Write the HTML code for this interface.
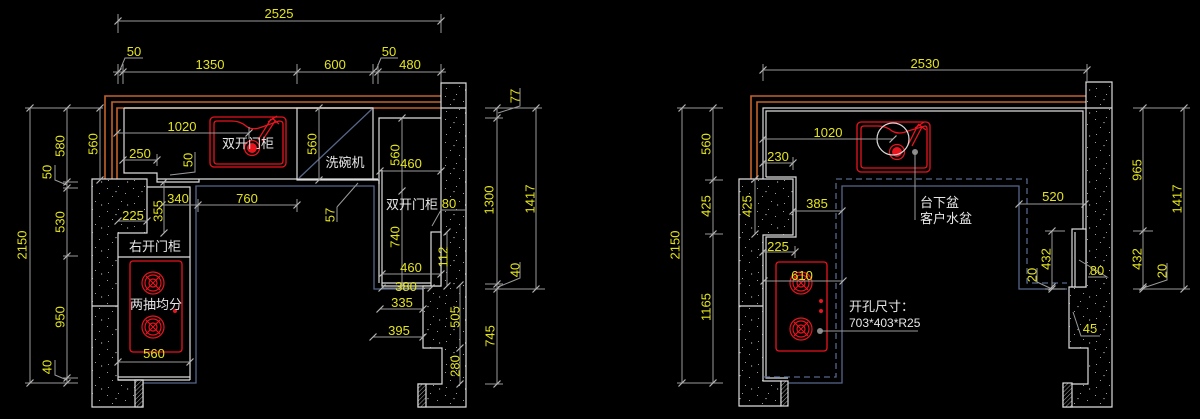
<!DOCTYPE html>
<html><head><meta charset="utf-8">
<style>
html,body{margin:0;padding:0;background:#000;}
svg{display:block;}
.d{stroke:#9a9a9a;stroke-width:1;fill:none}
.w{stroke:#dcdcdc;stroke-width:1.2;fill:none}
.o{stroke:#c4632a;stroke-width:1.6;fill:none}
.r{stroke:#e8141e;stroke-width:1.3;fill:none}
.b{stroke:#56668a;stroke-width:1.3;fill:none}
.bd{stroke:#56668a;stroke-width:1.3;fill:none;stroke-dasharray:6 4}
text{font-family:"Liberation Sans","Noto Sans CJK SC",sans-serif;}
.y{fill:#e4e41c;font-size:13px}
.t{fill:#e6e6e6;font-size:13px}
</style></head><body>
<svg width="1200" height="419" viewBox="0 0 1200 419" xmlns="http://www.w3.org/2000/svg">
<defs>
<path id="k" d="M-3.5,3.5L3.5,-3.5" stroke="#b4b4b4" stroke-width="1.2"/>
<pattern id="sp" width="26" height="23" patternUnits="userSpaceOnUse">
<rect width="26" height="23" fill="#000"/>
<g fill="#9a9a9a">
<rect x="3" y="4" width="1" height="1"/><rect x="14" y="2" width="1" height="1"/><rect x="21" y="9" width="1" height="1"/>
<rect x="8" y="12" width="1" height="1"/><rect x="17" y="17" width="1" height="1"/><rect x="4" y="19" width="1" height="1"/>
<path d="M11,7l2,0l-1,1.5z"/><path d="M23,20l1.5,1l-1.5,1z"/>
</g></pattern>
<pattern id="ht" width="3" height="3" patternUnits="userSpaceOnUse" patternTransform="rotate(45)">
<rect width="3" height="3" fill="#000"/><line x1="0" y1="0" x2="0" y2="3" stroke="#aaa" stroke-width="1"/></pattern>
<g id="bn" stroke="#e8141e" fill="none" stroke-width="1.2"><circle r="11"/><circle r="8"/><circle r="4"/><path d="M-7,-7L7,7M-7,7L7,-7"/></g>
</defs>
<rect width="1200" height="419" fill="#000"/>

<!-- ================= LEFT DRAWING ================= -->
<path class="d" d="M118,21H441M118,14V33M441,14V33"/>
<path class="d" d="M113,72H446M118,64V84M123,64V84M297,64V84M373,64V84M378,64V84M441,64V84"/>
<path class="d" d="M120,70L125,58H143M376,70L381,58H398"/>
<g><use href="#k" x="118" y="21"/><use href="#k" x="441" y="21"/>
<use href="#k" x="118" y="72"/><use href="#k" x="123" y="72"/><use href="#k" x="297" y="72"/><use href="#k" x="373" y="72"/><use href="#k" x="378" y="72"/><use href="#k" x="441" y="72"/></g>
<text class="y" x="279" y="18" text-anchor="middle">2525</text>
<text class="y" x="210" y="69" text-anchor="middle">1350</text>
<text class="y" x="335" y="69" text-anchor="middle">600</text>
<text class="y" x="410" y="69" text-anchor="middle">480</text>
<text class="y" x="134" y="56" text-anchor="middle">50</text>
<text class="y" x="389" y="56" text-anchor="middle">50</text>

<path class="o" d="M105,180V96H441M112,180V102H441M117,180V108H441"/>
<path class="w" d="M124,108H373M124,108V173H157V179H378M157,179V182H199V179"/>
<rect class="w" x="297" y="108" width="76" height="72"/>
<path class="b" d="M299,178L372,109"/>
<path class="w" d="M379,283V118H441M382,170V286H441M382,283H431"/>
<path class="w" d="M373,180H379V184"/>
<path class="b" d="M143,383H196V186H374V289H424"/>
<path class="w" style="fill:url(#sp)" d="M92,179H147V233H118V380H143V407H92Z"/>
<path class="w" d="M92,306H118"/>
<rect x="135" y="380" width="8" height="27" class="w" style="fill:url(#ht)"/>
<path class="w" d="M147,187H190V380M118,257H190M118,377H190M118,380H190"/>
<rect class="r" x="130" y="261" width="52" height="91" rx="3"/>
<use href="#bn" x="153" y="283"/><use href="#bn" x="153" y="327"/>
<circle cx="175" cy="311" r="2" fill="#e8141e"/>
<path class="w" style="fill:url(#sp)" d="M441,83H466V407H418V384H442V348H423V286H441Z"/>
<path class="w" d="M441,108H466"/>
<rect class="w" x="431" y="232" width="10" height="54" style="fill:#000"/>
<rect x="418" y="384" width="8" height="23" class="w" style="fill:url(#ht)"/>
<rect class="r" x="210" y="117" width="76" height="50" rx="4" stroke-width="2"/>
<path class="r" d="M214,124Q214,121 217,121H232Q240,121 246,126Q252,131 262,127L279,121Q283,121 283,124V161Q283,164 280,164H217Q214,164 214,161Z"/>
<circle cx="252" cy="148" r="5" fill="#e8141e"/><circle class="r" cx="252" cy="148" r="7.5"/>
<path class="r" d="M258,140L271,119M262,141L275,121M268,122L277,116M272,118L279,124"/>

<path class="d" d="M117,133H249M249,127V139M123,160H157M157,154V166M162,205H297M198,199V212M297,199V212M164,182V233M118,221H147M118,362H190M319,108V180M402,118V286M380,171H441M382,274H441M382,288H431M380,309H423M373,337H423M460,285V384M447,232V286"/>
<path class="d" d="M195,152V172L170,175M337,207V222M337,207L358,183M441,210H466M441,210L432,226"/>
<g><use href="#k" x="117" y="133"/><use href="#k" x="249" y="133"/><use href="#k" x="123" y="160"/><use href="#k" x="157" y="160"/>
<use href="#k" x="162" y="205"/><use href="#k" x="198" y="205"/><use href="#k" x="297" y="205"/>
<use href="#k" x="164" y="182"/><use href="#k" x="164" y="233"/><use href="#k" x="118" y="221"/><use href="#k" x="147" y="221"/>
<use href="#k" x="118" y="362"/><use href="#k" x="190" y="362"/><use href="#k" x="319" y="108"/><use href="#k" x="319" y="180"/>
<use href="#k" x="402" y="118"/><use href="#k" x="402" y="191"/><use href="#k" x="402" y="286"/>
<use href="#k" x="380" y="171"/><use href="#k" x="441" y="171"/><use href="#k" x="382" y="274"/><use href="#k" x="441" y="274"/>
<use href="#k" x="382" y="288"/><use href="#k" x="431" y="288"/><use href="#k" x="380" y="309"/><use href="#k" x="423" y="309"/>
<use href="#k" x="373" y="337"/><use href="#k" x="423" y="337"/><use href="#k" x="460" y="285"/><use href="#k" x="460" y="348"/><use href="#k" x="460" y="384"/>
<use href="#k" x="447" y="232"/><use href="#k" x="447" y="286"/></g>
<text class="y" x="182" y="131" text-anchor="middle">1020</text>
<text class="y" x="140" y="158" text-anchor="middle">250</text>
<text class="y" x="178" y="203" text-anchor="middle">340</text>
<text class="y" x="247" y="203" text-anchor="middle">760</text>
<text class="y" x="133" y="220" text-anchor="middle">225</text>
<text class="y" x="154" y="358" text-anchor="middle">560</text>
<text class="y" x="411" y="168" text-anchor="middle">460</text>
<text class="y" x="449" y="208" text-anchor="middle">80</text>
<text class="y" x="411" y="272" text-anchor="middle">460</text>
<text class="y" x="406" y="291" text-anchor="middle">380</text>
<text class="y" x="402" y="307" text-anchor="middle">335</text>
<text class="y" x="399" y="335" text-anchor="middle">395</text>
<g class="y" text-anchor="middle" dominant-baseline="central">
<text x="188" y="160" transform="rotate(-90 188 160)">50</text>
<text x="158" y="211" transform="rotate(-90 158 211)">355</text>
<text x="312" y="144" transform="rotate(-90 312 144)">560</text>
<text x="395" y="155" transform="rotate(-90 395 155)">560</text>
<text x="395" y="237" transform="rotate(-90 395 237)">740</text>
<text x="330" y="215" transform="rotate(-90 330 215)">57</text>
<text x="443" y="257" transform="rotate(-90 443 257)">112</text>
<text x="455" y="317" transform="rotate(-90 455 317)">505</text>
<text x="455" y="366" transform="rotate(-90 455 366)">280</text>
</g>
<text class="t" x="248" y="148" text-anchor="middle">双开门柜</text>
<text class="t" x="345" y="167" text-anchor="middle">洗碗机</text>
<text class="t" x="412" y="209" text-anchor="middle">双开门柜</text>
<text class="t" x="155" y="251" text-anchor="middle">右开门柜</text>
<text class="t" x="156" y="309" text-anchor="middle">两抽均分</text>

<path class="d" d="M30,108V383M67,108V383M100,108V180M25,108H103M63,182H78M63,188H78M63,256H78M63,378H78M25,383H78M55,165V180L67,185M55,360V375L67,380"/>
<g><use href="#k" x="30" y="108"/><use href="#k" x="30" y="383"/><use href="#k" x="67" y="108"/><use href="#k" x="67" y="182"/><use href="#k" x="67" y="188"/>
<use href="#k" x="67" y="256"/><use href="#k" x="67" y="378"/><use href="#k" x="67" y="383"/><use href="#k" x="100" y="108"/><use href="#k" x="100" y="180"/></g>
<g class="y" text-anchor="middle" dominant-baseline="central">
<text x="22" y="245" transform="rotate(-90 22 245)">2150</text>
<text x="60" y="146" transform="rotate(-90 60 146)">580</text>
<text x="47" y="172" transform="rotate(-90 47 172)">50</text>
<text x="60" y="222" transform="rotate(-90 60 222)">530</text>
<text x="60" y="317" transform="rotate(-90 60 317)">950</text>
<text x="47" y="367" transform="rotate(-90 47 367)">40</text>
<text x="93" y="144" transform="rotate(-90 93 144)">560</text>
</g>

<path class="d" d="M497,108V384M536,108V289M485,108H542M485,118H503M485,284H503M485,289H545M485,384H503M520,88V106L498,113M520,262V278L498,287"/>
<g><use href="#k" x="497" y="108"/><use href="#k" x="497" y="118"/><use href="#k" x="497" y="284"/><use href="#k" x="497" y="289"/><use href="#k" x="497" y="384"/>
<use href="#k" x="536" y="108"/><use href="#k" x="536" y="289"/></g>
<g class="y" text-anchor="middle" dominant-baseline="central">
<text x="515" y="96" transform="rotate(-90 515 96)">77</text>
<text x="489" y="200" transform="rotate(-90 489 200)">1300</text>
<text x="515" y="270" transform="rotate(-90 515 270)">40</text>
<text x="490" y="336" transform="rotate(-90 490 336)">745</text>
<text x="530" y="199" transform="rotate(-90 530 199)">1417</text>
</g>

<!-- ================= RIGHT DRAWING ================= -->
<path class="d" d="M763,70H1087M763,64V81M1087,64V81"/>
<use href="#k" x="763" y="70"/><use href="#k" x="1087" y="70"/>
<text class="y" x="925" y="68" text-anchor="middle">2530</text>
<path class="o" d="M751,180V96H1086M757,180V102H1086"/>
<path class="w" d="M763,179V108H1086M766,177V111H1083V229M766,177H796V237H766V378H788"/>
<path class="b" d="M788,383H842V186H1019V289H1067"/>
<path class="bd" d="M764,377H836V179H1027V283H1067"/>
<path class="w" style="fill:url(#sp)" d="M739,179H793V235H763V381H781V406H739Z"/>
<path class="w" d="M739,306H763"/>
<rect x="781" y="381" width="7" height="25" class="w" style="fill:url(#ht)"/>
<path class="w" style="fill:url(#sp)" d="M1086,82H1112V407H1063V384H1088V348H1069V287H1086Z"/>
<path class="w" d="M1086,108H1112"/>
<rect class="w" x="1072" y="229" width="14" height="58" style="fill:#000"/>
<path class="w" d="M1075,232V287"/>
<rect x="1063" y="383" width="9" height="24" class="w" style="fill:url(#ht)"/>
<rect class="r" x="857" y="122" width="73" height="50" rx="4" stroke-width="2"/>
<path class="r" d="M861,129Q861,126 864,126H878Q886,126 892,131Q899,135 908,131L925,126Q927,126 927,129V165Q927,168 924,168H864Q861,168 861,165Z"/>
<circle cx="897" cy="152" r="5" fill="#e8141e"/><circle class="r" cx="897" cy="152" r="7.5"/>
<path class="r" d="M908,145L918,125M912,146L922,127M915,128L924,122M918,124L926,130"/>
<circle cx="893" cy="139" r="16" stroke="#d8d8d8" stroke-width="1.2" fill="none"/>
<circle cx="915" cy="152" r="3" fill="#8a8a8a"/>
<path class="d" d="M915,152V220"/>
<rect class="r" x="776" y="262" width="51" height="89" rx="3"/>
<use href="#bn" x="801" y="283"/><use href="#bn" x="801" y="329"/>
<circle cx="821" cy="301" r="2" fill="#e8141e"/><circle cx="821" cy="311" r="2" fill="#e8141e"/>
<circle cx="820" cy="331" r="3" fill="#8a8a8a"/>
<path class="d" d="M820,331H918"/>
<path class="d" d="M763,139H893M763,163H793M793,157V170M793,211H842M1019,204H1085M763,252H795M795,246V258M764,281H843M1052,231V289M1045,231H1065M1045,289H1065M1037,268V282L1052,289M1088,277H1107L1079,260M1100,336H1081L1073,312"/>
<g><use href="#k" x="763" y="139"/><use href="#k" x="893" y="139"/><use href="#k" x="763" y="163"/><use href="#k" x="793" y="163"/>
<use href="#k" x="793" y="211"/><use href="#k" x="842" y="211"/><use href="#k" x="1019" y="204"/><use href="#k" x="1085" y="204"/>
<use href="#k" x="763" y="252"/><use href="#k" x="795" y="252"/><use href="#k" x="764" y="281"/><use href="#k" x="843" y="281"/>
<use href="#k" x="1052" y="231"/><use href="#k" x="1052" y="287"/><use href="#k" x="1052" y="289"/></g>
<text class="y" x="828" y="137" text-anchor="middle">1020</text>
<text class="y" x="778" y="161" text-anchor="middle">230</text>
<text class="y" x="817" y="208" text-anchor="middle">385</text>
<text class="y" x="1053" y="201" text-anchor="middle">520</text>
<text class="y" x="778" y="251" text-anchor="middle">225</text>
<text class="y" x="802" y="280" text-anchor="middle">610</text>
<text class="y" x="1097" y="275" text-anchor="middle">80</text>
<text class="y" x="1090" y="333" text-anchor="middle">45</text>
<text class="t" x="920" y="207">台下盆</text>
<text class="t" x="920" y="223">客户水盆</text>
<text class="t" x="849" y="311">开孔尺寸：</text>
<text class="t" x="849" y="327" style="font-size:12px">703*403*R25</text>
<path class="d" d="M682,108V383M713,108V383M677,108H723M705,180H723M705,234H723M677,383H723M755,179V234"/>
<g><use href="#k" x="682" y="108"/><use href="#k" x="682" y="383"/><use href="#k" x="713" y="108"/><use href="#k" x="713" y="180"/>
<use href="#k" x="713" y="234"/><use href="#k" x="713" y="383"/><use href="#k" x="755" y="179"/><use href="#k" x="755" y="234"/></g>
<path class="d" d="M1143,108V289M1184,108V289M1133,108H1190M1133,231H1153M1133,289H1190M1167,263V280L1143,288"/>
<g><use href="#k" x="1143" y="108"/><use href="#k" x="1143" y="231"/><use href="#k" x="1143" y="287"/><use href="#k" x="1143" y="289"/>
<use href="#k" x="1184" y="108"/><use href="#k" x="1184" y="289"/></g>
<g class="y" text-anchor="middle" dominant-baseline="central">
<text x="675" y="245" transform="rotate(-90 675 245)">2150</text>
<text x="706" y="144" transform="rotate(-90 706 144)">560</text>
<text x="706" y="206" transform="rotate(-90 706 206)">425</text>
<text x="706" y="307" transform="rotate(-90 706 307)">1165</text>
<text x="747" y="206" transform="rotate(-90 747 206)">425</text>
<text x="1046" y="259" transform="rotate(-90 1046 259)">432</text>
<text x="1032" y="275" transform="rotate(-90 1032 275)">20</text>
<text x="1137" y="170" transform="rotate(-90 1137 170)">965</text>
<text x="1137" y="259" transform="rotate(-90 1137 259)">432</text>
<text x="1162" y="271" transform="rotate(-90 1162 271)">20</text>
<text x="1177" y="199" transform="rotate(-90 1177 199)">1417</text>
</g>
</svg>
</body></html>
